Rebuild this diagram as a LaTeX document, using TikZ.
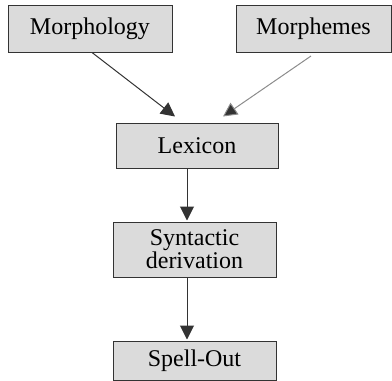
\documentclass[tikz,border=0pt]{standalone}
\usepackage{fontspec}
\setmainfont{Liberation Serif}
\usetikzlibrary{arrows.meta,calc}
\begin{document}
\begin{tikzpicture}[x=1pt,y=-1pt,
  boxnode/.style={draw=black!80,line width=1pt,fill=black!14,inner sep=0pt,
    align=center,font=\fontsize{24}{20.5}\selectfont,text=black},
  conn/.style={line width=1pt,draw=black!80,-{Triangle[length=14pt,width=14pt]}}]
\useasboundingbox (0,0) rectangle (392,381);
\node[boxnode,minimum width=164pt,minimum height=47pt] (morph) at (90,28.5) {Morphology};
\node[boxnode,minimum width=155pt,minimum height=47pt] (morphemes) at (313.5,29) {Morphemes};
\node[boxnode,minimum width=162pt,minimum height=45pt] (lex) at (197,145.5) {Lexicon};
\node[boxnode,minimum width=163pt,minimum height=55pt] (syn) at (194.5,249.5) {Syntactic\\derivation};
\node[boxnode,minimum width=163pt,minimum height=39pt] (spell) at (194.5,360.5) {Spell-Out};
\draw[conn] ([xshift=2pt]morph.south) -- ([xshift=-22pt,yshift=6pt]lex.north);
\draw[conn,draw=black!45,-{Triangle[length=14pt,width=14pt,fill=black!80]}] ([xshift=-2.5pt,yshift=-3pt]morphemes.south) -- ([xshift=26pt,yshift=6pt]lex.north);
\draw[conn] ([xshift=-10pt]lex.south) -- ([xshift=-7.5pt,yshift=1pt]syn.north);
\draw[conn] ([xshift=-7.5pt]syn.south) -- ([xshift=-7.5pt,yshift=1pt]spell.north);
\end{tikzpicture}
\end{document}
